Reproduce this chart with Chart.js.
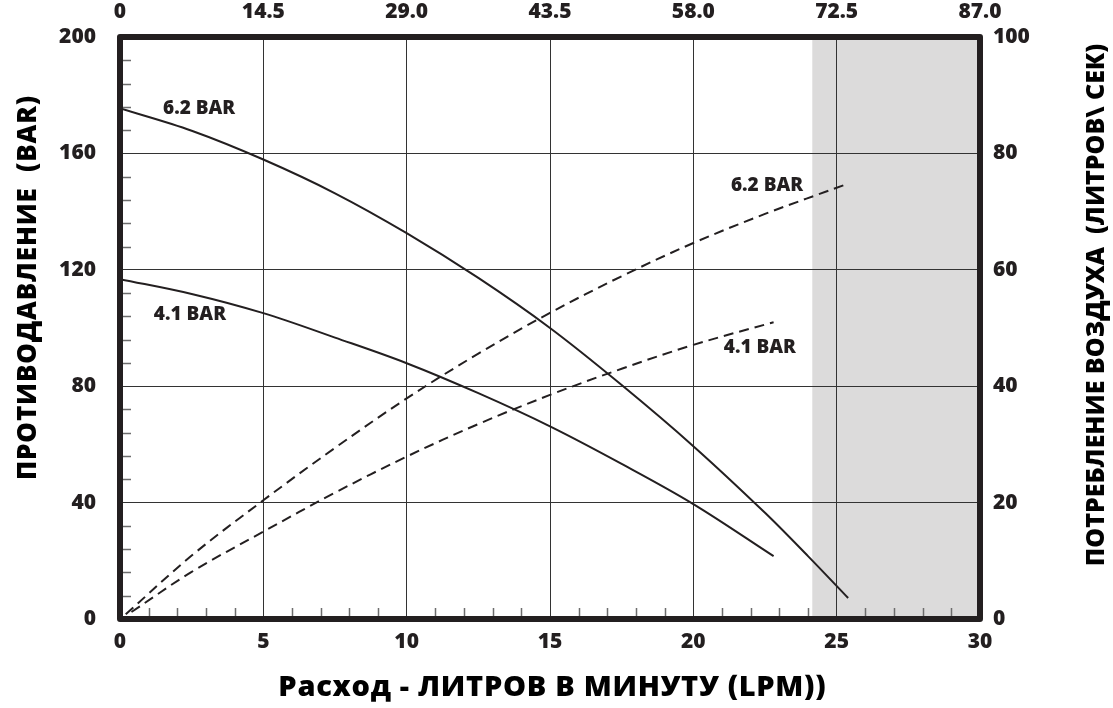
<!DOCTYPE html>
<html>
<head>
<meta charset="utf-8">
<script src="https://cdn.jsdelivr.net/npm/chart.js@4"></script>
<style>
  html, body { margin: 0; padding: 0; background: #fff; }
  #wrap { width: 1113px; height: 708px; }
</style>
</head>
<body>
<div id="wrap"><canvas id="pumpChart"></canvas></div>
<script>
// Flow points (LPM) and values
const flowHigh = [0, 2.5, 5, 7.5, 10, 12.5, 15, 17.5, 20, 22.5, 24, 25.4];
const pressureHigh = [175.5, 167.8, 157.9, 146.3, 132.6, 117.2, 100, 80.4, 59.4, 36.5, 21.6, 7.2];

const flowLow = [0, 2.5, 5, 7.5, 10, 12.5, 15, 17.5, 20, 22.8];
const pressureLow = [116.8, 111.7, 105.1, 96.7, 87.9, 77.6, 66.2, 53.3, 39.5, 21.6];

const airFlowHigh = [0.2, 2.5, 5, 7.5, 10, 12.5, 15, 17.5, 20, 22.5, 25.4];
const airHigh = [0.8, 10.9, 20.4, 29.4, 37.9, 45.6, 52.6, 58.9, 64.6, 69.6, 74.8];

const airFlowLow = [0.4, 2.5, 5, 7.5, 10, 12.5, 15, 17.5, 20, 22.8];
const airLow = [1.2, 8.1, 15, 21.7, 27.9, 33.5, 38.5, 43, 47.1, 51];

// Axis ranges / ticks
const flowMax = 30, flowStep = 5;
const topMax = 87, topStep = 14.5;
const pressureMax = 200, pressureStep = 40, pressureMinor = 8;
const airMax = 100, airStep = 20;
const shadeFrom = 24.15; // grey zone start (LPM)

// Curve labels: [text, flow, pressure on left scale]
const curveLabels = [
    ['6.2 BAR', 2.76, 175.3],
    ['4.1 BAR', 2.44, 104.5],
    ['6.2 BAR', 22.57, 149.1],
    ['4.1 BAR', 22.32, 93.1]
];

const titleLeft = 'ПРОТИВОДАВЛЕНИЕ  (BAR)';
const titleRight = 'ПОТРЕБЛЕНИЕ ВОЗДУХА  (ЛИТРОВ\\ СЕК)';
const titleBottom = 'Расход - ЛИТРОВ В МИНУТУ (LPM))';

const ink = '#231f20';
const fontFamily = '"Open Sans", "Noto Sans", "DejaVu Sans", sans-serif';

function toPoints(xs, ys) {
    return xs.map((x, i) => ({ x: x, y: ys[i] }));
}

// draw text centred at (cx, cy), stretched by letter spacing to a given width
function fittedText(ctx, text, size, width, cx, cy, angle) {
    ctx.save();
    ctx.fillStyle = '#000';
    ctx.font = '800 ' + size + 'px ' + fontFamily;
    ctx.textAlign = 'center';
    ctx.textBaseline = 'middle';
    const w = ctx.measureText(text).width;
    const extra = (width - w) / text.length;
    if (extra > 0) ctx.letterSpacing = extra.toFixed(2) + 'px';
    ctx.translate(cx, cy);
    ctx.rotate(angle);
    ctx.fillText(text, extra > 0 ? extra / 2 : 0, 0);
    ctx.restore();
}

// Draws shading, minor ticks, frame, labels and titles
const decorPlugin = {
    id: 'decor',
    beforeDraw(chart) {
        const { ctx, chartArea: a, scales } = chart;
        const x0 = scales.x.getPixelForValue(shadeFrom);
        ctx.save();
        ctx.fillStyle = '#dcdbdb';
        ctx.fillRect(x0, a.top, a.right - x0, a.bottom - a.top);
        ctx.restore();
    },
    afterDatasetsDraw(chart) {
        const { ctx, chartArea: a, scales } = chart;
        ctx.save();
        // minor ticks
        ctx.strokeStyle = '#6d6d6d';
        ctx.lineWidth = 1.5;
        ctx.beginPath();
        for (let v = pressureMinor; v < pressureMax; v += pressureMinor) {
            if (v % pressureStep === 0) continue;
            const y = Math.round(scales.y.getPixelForValue(v)) + 0.5;
            ctx.moveTo(a.left + 3, y);
            ctx.lineTo(a.left + 11, y);
        }
        for (let v = 1; v < flowMax; v++) {
            if (v % flowStep === 0) continue;
            const x = Math.round(scales.x.getPixelForValue(v)) + 0.5;
            ctx.moveTo(x, a.bottom - 3);
            ctx.lineTo(x, a.bottom - 11);
        }
        ctx.stroke();

        // heavy frame
        ctx.strokeStyle = ink;
        ctx.lineWidth = 6;
        ctx.lineJoin = 'round';
        ctx.strokeRect(a.left, a.top, a.right - a.left, a.bottom - a.top);

        // curve labels
        ctx.fillStyle = ink;
        ctx.font = '800 19px ' + fontFamily;
        ctx.textAlign = 'center';
        ctx.textBaseline = 'middle';
        curveLabels.forEach(([text, fx, py]) => {
            ctx.fillText(text, scales.x.getPixelForValue(fx), scales.y.getPixelForValue(py));
        });
        ctx.restore();
    },
    afterDraw(chart) {
        const ctx = chart.ctx;
        fittedText(ctx, titleLeft, 26, 385, 29, 288, -Math.PI / 2);
        fittedText(ctx, titleRight, 25, 518, 1097, 305, -Math.PI / 2);
        fittedText(ctx, titleBottom, 29, 548, 552, 688, 0);
    }
};

const tickFont = { family: fontFamily, size: 21, weight: '800' };

const lineStyle = {
    borderColor: ink,
    borderWidth: 2,
    pointRadius: 0,
    fill: false,
    tension: 0.35
};

new Chart(document.getElementById('pumpChart'), {
    type: 'line',
    data: {
        datasets: [
            Object.assign({ label: '6.2 BAR', data: toPoints(flowHigh, pressureHigh), yAxisID: 'y' }, lineStyle),
            Object.assign({ label: '4.1 BAR', data: toPoints(flowLow, pressureLow), yAxisID: 'y' }, lineStyle),
            Object.assign({ label: '6.2 BAR air', data: toPoints(airFlowHigh, airHigh), yAxisID: 'y1', borderDash: [10, 6] }, lineStyle),
            Object.assign({ label: '4.1 BAR air', data: toPoints(airFlowLow, airLow), yAxisID: 'y1', borderDash: [10, 6] }, lineStyle)
        ]
    },
    options: {
        responsive: true,
        maintainAspectRatio: false,
        animation: false,
        layout: { padding: 0 },
        plugins: {
            legend: { display: false },
            tooltip: { enabled: false }
        },
        scales: {
            x: {
                type: 'linear',
                position: 'bottom',
                min: 0,
                max: flowMax,
                ticks: { stepSize: flowStep, padding: 10, font: tickFont, color: ink },
                grid: { color: '#333', lineWidth: 1, drawTicks: false },
                border: { display: false },
                afterFit(scale) { scale.height = 89; }
            },
            x2: {
                type: 'linear',
                position: 'top',
                min: 0,
                max: topMax,
                ticks: {
                    stepSize: topStep,
                    padding: 12,
                    font: tickFont,
                    color: ink,
                    callback: v => (v === 0 ? '0' : v.toFixed(1))
                },
                grid: { display: false, drawTicks: false },
                border: { display: false },
                afterFit(scale) { scale.height = 37; }
            },
            y: {
                type: 'linear',
                position: 'left',
                min: 0,
                max: pressureMax,
                ticks: { stepSize: pressureStep, padding: 24, font: tickFont, color: ink },
                grid: { color: '#333', lineWidth: 1, drawTicks: false },
                border: { display: false },
                afterFit(scale) { scale.width = 120; }
            },
            y1: {
                type: 'linear',
                position: 'right',
                min: 0,
                max: airMax,
                ticks: { stepSize: airStep, padding: 13, font: tickFont, color: ink },
                grid: { display: false, drawTicks: false },
                border: { display: false },
                afterFit(scale) { scale.width = 133; }
            }
        }
    },
    plugins: [decorPlugin]
});
</script>
</body>
</html>
